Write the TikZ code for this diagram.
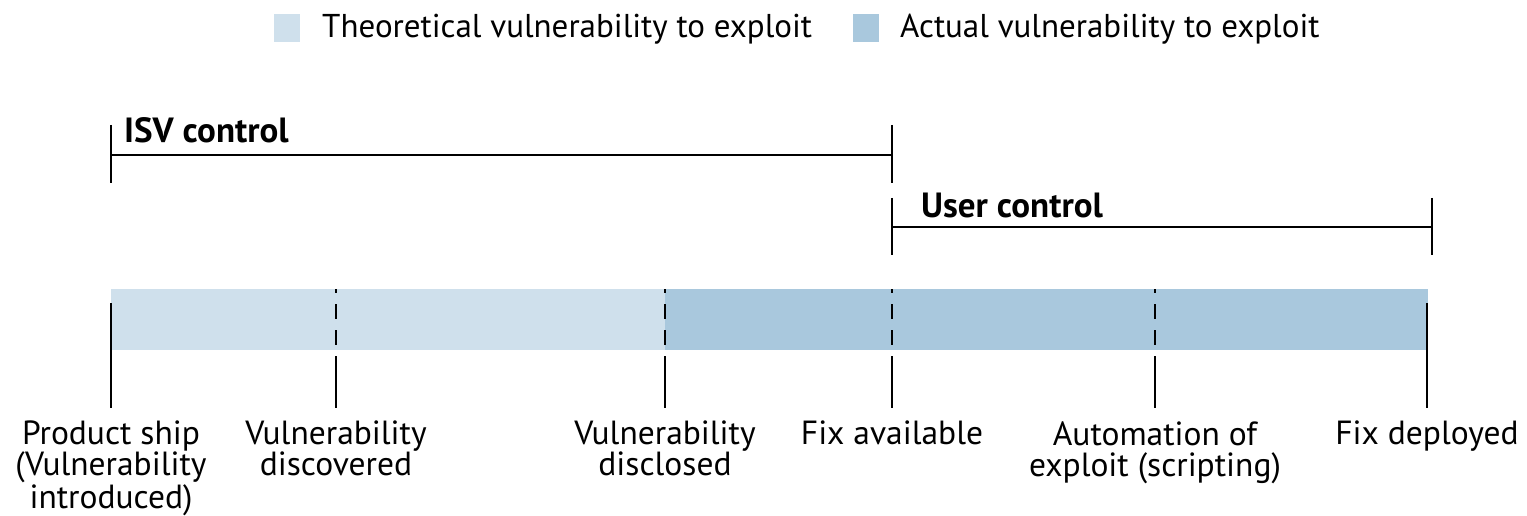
\documentclass[tikz,border=0pt]{standalone}
\usepackage{fontspec}
\setmainfont{PT Sans}
\definecolor{theory}{HTML}{CFE0EC}
\definecolor{actual}{HTML}{A9C8DD}

\begin{document}
\begin{tikzpicture}
      [%%%%%%%%%%%%%%%%%%%%%%%%%%%%%%
          x=1pt, y=-1pt,
          rule/.style={draw=black, line width=1.8pt},
          event/.style={anchor=north, align=center, inner sep=0pt,
                        font=\fontsize{33.5}{31}\selectfont},
          span/.style={anchor=base west, inner sep=0pt,
                       font=\fontsize{35}{31}\selectfont\bfseries},
          key/.style={anchor=base west, inner sep=0pt,
                      font=\fontsize{33}{31}\selectfont},
          swatch/.style={rectangle, minimum width=26pt, minimum height=28pt,
                         inner sep=0pt, anchor=north west}
      ]%%%%%%%%%%%%%%%%%%%%%%%%%%%%%%

  \useasboundingbox (0,0) rectangle (1527,516);

  % legend
  \node[swatch, fill=theory] (keyT) at (274,14) {};
  \node[key] (keyTtext) at (322,38) {Theoretical vulnerability to exploit};
  \node[swatch, fill=actual] (keyA) at (853,14) {};
  \node[key] (keyAtext) at (900,38) {Actual vulnerability to exploit};

  % control spans
  \draw[rule] (111,125) -- (111,183);
  \draw[rule] (892,125) -- (892,183);
  \coordinate (isvL) at (111,155);
  \coordinate (isvR) at (892,155);
  \draw[rule] (isvL) -- (isvR);
  \node[span] (isv) at (124,143) {ISV control};

  \draw[rule] (892,198) -- (892,255);
  \draw[rule] (1432,198) -- (1432,255);
  \coordinate (userL) at (892,227);
  \coordinate (userR) at (1432,227);
  \draw[rule] (userL) -- (userR);
  \node[span] (user) at (921,217) {User control};

  % timeline bar
  \fill[theory] (111,289) rectangle (665,350);
  \fill[actual] (665,289) rectangle (1428,350);

  % events
  \node[event] (ship) at (111,421) {Product ship\\(Vulnerability\\introduced)};
  \node[event] (found) at (336,421) {Vulnerability\\discovered};
  \node[event] (told) at (665,421) {Vulnerability\\disclosed};
  \node[event] (fix) at (892,421) {Fix available};
  \node[event] (auto) at (1155,421) {Automation of\\exploit (scripting)};
  \node[event] (done) at (1427,421) {Fix deployed};

  \foreach \n in {ship,done}{
      \coordinate (\n top) at (\n.north |- 0,303);
      \draw[rule, shorten >=13pt] (\n top) -- (\n.north);
  }

  \foreach \n in {found,told,fix,auto}{
      \coordinate (\n top) at (\n.north |- 0,289);
      \coordinate (\n mid) at (\n.north |- 0,356);
      \draw[rule, dash pattern=on 15pt off 11pt, dash phase=11pt] (\n top) -- (\n mid);
      \draw[rule, shorten >=13pt] (\n mid) -- (\n.north);
  }

  \end{tikzpicture}
\end{document}
